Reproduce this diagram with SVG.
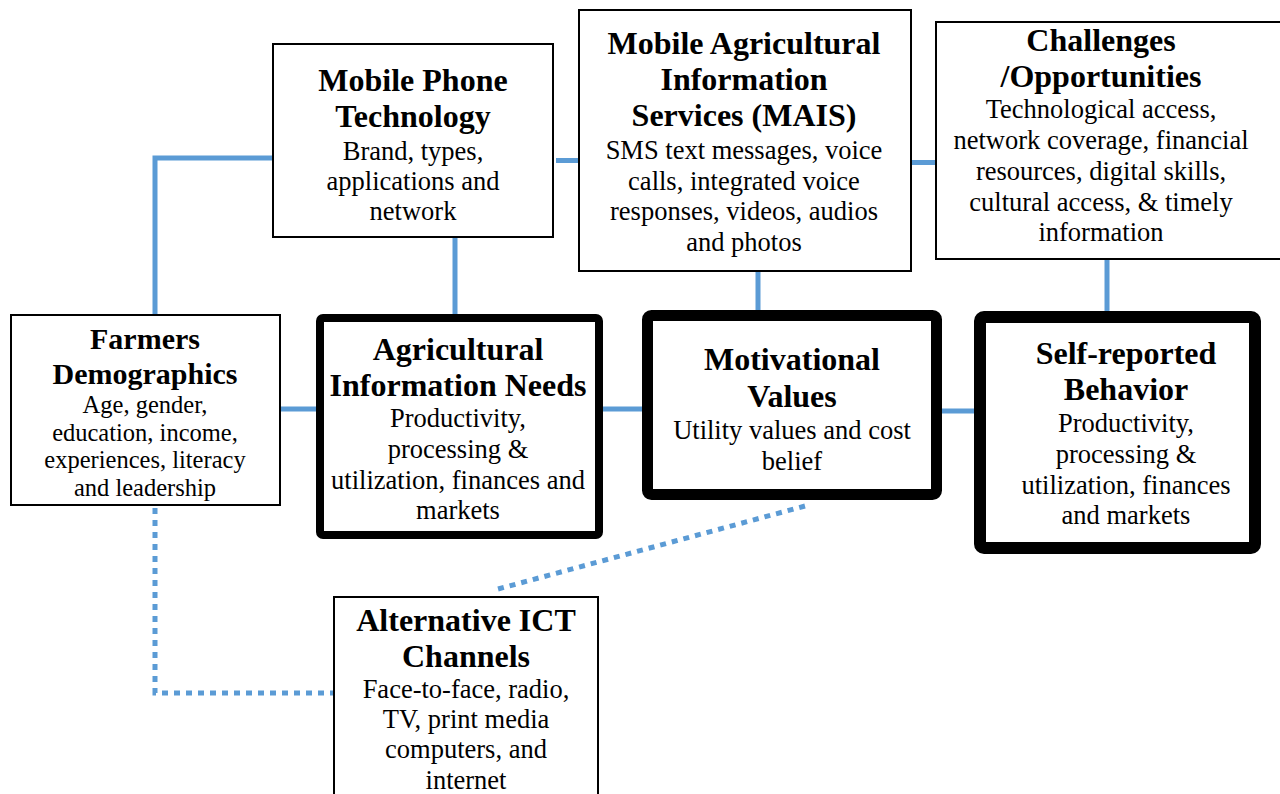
<svg xmlns="http://www.w3.org/2000/svg" width="1280" height="794" viewBox="0 0 1280 794">
  <style>
    .box { fill: #ffffff; stroke: #000000; stroke-width: 2; }
    .key { fill: #ffffff; stroke: #000000; stroke-linejoin: round; }
    .title { font-family: "Liberation Serif", "Times New Roman", serif; font-weight: bold; font-size: 32px; fill: #000; text-anchor: middle; }
    .body { font-family: "Liberation Serif", "Times New Roman", serif; font-size: 26.5px; fill: #000; text-anchor: middle; }
    .tight .title { font-size: 30px; }
    .tight .body { font-size: 24.5px; }
    .link { fill: none; stroke: #5B9BD5; stroke-width: 5; }
    .dots { fill: none; stroke: #5B9BD5; stroke-width: 5; stroke-dasharray: 6 6; }
  </style>
  <rect width="1280" height="794" fill="#ffffff"/>

  <!-- connectors -->
  <g id="connectors">
    <path class="link" d="M155,314 V158 H272"/>
    <path class="link" d="M455,237 V316"/>
    <path class="link" d="M556,160.5 H578"/>
    <path class="link" d="M911,162.5 H936"/>
    <path class="link" d="M281,409 H318"/>
    <path class="link" d="M601,409 H644"/>
    <path class="link" d="M940,411 H976"/>
    <path class="link" d="M758,271 V311"/>
    <path class="link" d="M1107,259 V312"/>
    <path class="dots" d="M155,508 V693 H333"/>
    <path class="dots" d="M805,506 L498,589"/>
  </g>

  <g id="mobile-phone-technology">
    <rect class="box" x="273" y="44" width="280" height="193"/>
    <text class="title" x="413" y="91">Mobile Phone</text>
    <text class="title" x="413" y="127">Technology</text>
    <text class="body" x="413" y="160">Brand, types,</text>
    <text class="body" x="413" y="190">applications and</text>
    <text class="body" x="413" y="220">network</text>
  </g>

  <g id="mais">
    <rect class="box" x="579" y="10" width="332" height="261"/>
    <text class="title" x="744" y="54">Mobile Agricultural</text>
    <text class="title" x="744" y="90">Information</text>
    <text class="title" x="744" y="126">Services (MAIS)</text>
    <text class="body" x="744" y="159">SMS text messages, voice</text>
    <text class="body" x="744" y="190">calls, integrated voice</text>
    <text class="body" x="744" y="220">responses, videos, audios</text>
    <text class="body" x="744" y="251">and photos</text>
  </g>

  <g id="challenges-opportunities">
    <rect class="box" x="936" y="22" width="350" height="237"/>
    <text class="title" x="1101" y="51">Challenges</text>
    <text class="title" x="1101" y="87">/Opportunities</text>
    <text class="body" x="1101" y="118">Technological access,</text>
    <text class="body" x="1101" y="149">network coverage, financial</text>
    <text class="body" x="1101" y="180">resources, digital skills,</text>
    <text class="body" x="1101" y="211">cultural access, &amp; timely</text>
    <text class="body" x="1101" y="241">information</text>
  </g>

  <g id="farmers-demographics" class="tight">
    <rect class="box" x="11" y="315" width="269" height="190"/>
    <text class="title" x="145" y="349">Farmers</text>
    <text class="title" x="145" y="383.5">Demographics</text>
    <text class="body" x="145" y="413">Age, gender,</text>
    <text class="body" x="145" y="440.5">education, income,</text>
    <text class="body" x="145" y="468">experiences, literacy</text>
    <text class="body" x="145" y="495.5">and leadership</text>
  </g>

  <g id="agricultural-information-needs">
    <rect class="key" x="320" y="318" width="279" height="217" rx="3" stroke-width="8"/>
    <text class="title" x="458" y="360">Agricultural</text>
    <text class="title" x="458" y="396">Information Needs</text>
    <text class="body" x="458" y="427">Productivity,</text>
    <text class="body" x="458" y="458">processing &amp;</text>
    <text class="body" x="458" y="489">utilization, finances and</text>
    <text class="body" x="458" y="519">markets</text>
  </g>

  <g id="motivational-values">
    <rect class="key" x="647.5" y="315.5" width="289" height="179" rx="4" stroke-width="11"/>
    <text class="title" x="792" y="370">Motivational</text>
    <text class="title" x="792" y="407">Values</text>
    <text class="body" x="792" y="439">Utility values and cost</text>
    <text class="body" x="792" y="470">belief</text>
  </g>

  <g id="self-reported-behavior">
    <rect class="key" x="980" y="317" width="275" height="231" rx="4" stroke-width="12"/>
    <text class="title" x="1126" y="364">Self-reported</text>
    <text class="title" x="1126" y="400">Behavior</text>
    <text class="body" x="1126" y="432">Productivity,</text>
    <text class="body" x="1126" y="463">processing &amp;</text>
    <text class="body" x="1126" y="494">utilization, finances</text>
    <text class="body" x="1126" y="524">and markets</text>
  </g>

  <g id="alternative-ict-channels">
    <rect class="box" x="334" y="597" width="264" height="220"/>
    <text class="title" x="466" y="631">Alternative ICT</text>
    <text class="title" x="466" y="667">Channels</text>
    <text class="body" x="466" y="698">Face-to-face, radio,</text>
    <text class="body" x="466" y="728">TV, print media</text>
    <text class="body" x="466" y="758">computers, and</text>
    <text class="body" x="466" y="789">internet</text>
  </g>
</svg>
